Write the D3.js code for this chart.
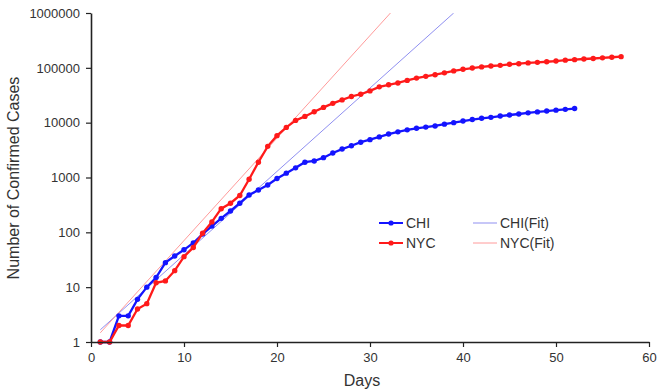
<!DOCTYPE html>
<html>
<head>
<meta charset="utf-8">
<script src="https://cdn.jsdelivr.net/npm/d3@7"></script>
<style>
  body { margin: 0; background: #fff; }
  svg text { font-family: Arial, "Liberation Sans", sans-serif; fill: #333; }
</style>
</head>
<body>
<div id="chart"></div>
<script>
// confirmed cases per day since first case
const chiDays = d3.range(1, 53);
const chiCases = [1, 1, 3, 3, 6, 10, 15, 28, 37, 48,
  64, 93, 130, 180, 245, 340, 480, 590, 730, 960,
  1200, 1500, 1900, 2000, 2300, 2800, 3300, 3800, 4400, 4900,
  5500, 6200, 6800, 7400, 7900, 8300, 8700, 9400, 10000, 10700,
  11400, 12000, 12500, 13200, 13800, 14400, 15100, 15700, 16300, 16900,
  17500, 18100];
const nycDays = d3.range(1, 58);
const nycCases = [1, 1, 2, 2, 4, 5, 12, 13, 20, 36,
  53, 96, 155, 270, 340, 470, 930, 1900, 3700, 5800,
  8200, 11000, 13000, 15800, 19000, 22500, 26000, 30000, 33000, 38000,
  45000, 49000, 53000, 59000, 65000, 70000, 75000, 81000, 88000, 94000,
  99000, 104000, 108000, 111000, 116000, 119000, 123000, 126000, 129000, 133000,
  138000, 141000, 145000, 148000, 152000, 156000, 160000];
// fit lines (straight on log axis), end points
const chiFitDays = [1, 39];
const chiFitCases = [1.67, 1000000];
const nycFitDays = [1, 32.2];
const nycFitCases = [1.47, 1000000];

const xTicks = [0, 10, 20, 30, 40, 50, 60];
const yTicks = [1, 10, 100, 1000, 10000, 100000, 1000000];

const W = 657, H = 391;
const margin = { top: 13, right: 8, bottom: 49, left: 91 };
const width = W - margin.left - margin.right;
const height = H - margin.top - margin.bottom;

const svg = d3.select('#chart').append('svg')
  .attr('width', W)
  .attr('height', H);

svg.append('defs').append('clipPath').attr('id', 'plot')
  .append('rect').attr('width', width).attr('height', height);

const g = svg.append('g')
  .attr('transform', `translate(${margin.left},${margin.top})`);

const x = d3.scaleLinear().domain([0, 60]).range([0, width]);
const y = d3.scaleLog().domain([1, 1000000]).range([height, 0]);

const line = d3.line()
  .x(d => x(d[0]))
  .y(d => y(d[1]));

// fits
const fits = [
  { days: chiFitDays, cases: chiFitCases, color: '#8f8ff0' },
  { days: nycFitDays, cases: nycFitCases, color: '#ff9a9a' }
];
fits.forEach(f => {
  g.append('path')
    .datum(d3.zip(f.days, f.cases))
    .attr('clip-path', 'url(#plot)')
    .attr('fill', 'none')
    .attr('stroke', f.color)
    .attr('stroke-width', 1)
    .attr('d', line);
});

// data series
const series = [
  { days: chiDays, cases: chiCases, color: '#1414ff' },
  { days: nycDays, cases: nycCases, color: '#ff1a1a' }
];
series.forEach(s => {
  const pts = d3.zip(s.days, s.cases);
  g.append('path')
    .datum(pts)
    .attr('fill', 'none')
    .attr('stroke', s.color)
    .attr('stroke-width', 2.3)
    .attr('d', line);
  g.selectAll(null)
    .data(pts)
    .enter()
    .append('circle')
    .attr('cx', d => x(d[0]))
    .attr('cy', d => y(d[1]))
    .attr('r', 2.7)
    .attr('fill', s.color);
});

// axes
const xAxis = g.append('g')
  .attr('transform', `translate(0,${height})`)
  .call(d3.axisBottom(x).tickValues(xTicks).tickSize(5).tickPadding(6).tickSizeOuter(0));
const yAxis = g.append('g')
  .call(d3.axisLeft(y).tickValues(yTicks).tickFormat(d3.format('d')).tickSize(5).tickPadding(6).tickSizeOuter(0));
[xAxis, yAxis].forEach(a => {
  a.select('.domain').attr('stroke', '#222').attr('stroke-width', 1.6);
  a.selectAll('.tick line').attr('stroke', '#222').attr('stroke-width', 1.2);
  a.selectAll('.tick text').attr('font-size', 13).attr('fill', '#333');
});

svg.append('text')
  .attr('x', margin.left + x(30) - 8)
  .attr('y', 386)
  .attr('text-anchor', 'middle')
  .attr('font-size', 16)
  .text('Days');
svg.append('text')
  .attr('transform', 'translate(19,178) rotate(-90)')
  .attr('text-anchor', 'middle')
  .attr('font-size', 16)
  .text('Number of Confirmed Cases');

// legend
const legend = [
  { name: 'CHI', color: '#1414ff', dot: true, x: 379, y: 223 },
  { name: 'CHI(Fit)', color: '#8f8ff0', dot: false, x: 473, y: 223 },
  { name: 'NYC', color: '#ff1a1a', dot: true, x: 379, y: 243 },
  { name: 'NYC(Fit)', color: '#ff9a9a', dot: false, x: 473, y: 243 }
];
const lg = svg.append('g').selectAll('g').data(legend).enter().append('g')
  .attr('transform', d => `translate(${d.x},${d.y})`);
lg.append('line')
  .attr('x1', 0).attr('x2', 24)
  .attr('stroke', d => d.color)
  .attr('stroke-width', d => d.dot ? 2 : 1);
lg.filter(d => d.dot).append('circle')
  .attr('cx', 12).attr('r', 2.6)
  .attr('fill', d => d.color);
lg.append('text')
  .attr('x', 27).attr('dy', '0.35em')
  .attr('font-size', 14)
  .text(d => d.name);
</script>
</body>
</html>
